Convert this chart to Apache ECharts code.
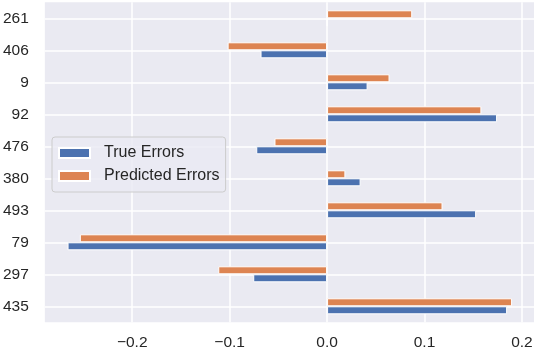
<!DOCTYPE html>
<html>
<head>
<meta charset="utf-8">
<script src="https://cdn.jsdelivr.net/npm/echarts@6/dist/echarts.min.js"></script>
<style>
  html, body { margin: 0; padding: 0; background: #fff; }
  #chart { width: 542px; height: 352px; }
</style>
</head>
<body>
<div id="chart"></div>
<script>
// categories listed bottom to top
const ids = ['435', '297', '79', '493', '380', '476', '92', '9', '406', '261'];
const trueErrors = [0.1848, -0.0758, -0.2664, 0.153, 0.0344, -0.0727, 0.1745, 0.0416, -0.0683, 0];
const predErrors = [0.1899, -0.1117, -0.2538, 0.1185, 0.0188, -0.054, 0.1584, 0.0641, -0.1021, 0.0874];
const xTicks = [-0.2, -0.1, 0, 0.1, 0.2];

const font = 'Liberation Sans, Arial, sans-serif';
const txt = '#262626';

function fmt(v) {
  let s = Math.abs(v) < 1e-9 ? '0.0' : v.toFixed(1);
  return s.replace('-', '\u2212');
}

const chart = echarts.init(document.getElementById('chart'));
chart.setOption({
  animation: false,
  backgroundColor: '#ffffff',
  grid: {
    left: 44, right: 8, top: 2.3, bottom: 29.7,
    show: true, backgroundColor: '#EAEAF2', borderWidth: 0
  },
  legend: {
    orient: 'vertical',
    left: 52, top: 137,
    padding: [7, 6, 7, 6],
    icon: 'rect',
    itemWidth: 31, itemHeight: 10, itemGap: 5,
    backgroundColor: 'rgba(234,234,242,0.8)',
    borderColor: '#cccccc', borderWidth: 1, borderRadius: 3,
    textStyle: { fontFamily: font, fontSize: 16, color: txt, lineHeight: 18, padding: [0, 0, 0, 9] },
    data: ['True Errors', 'Predicted Errors']
  },
  xAxis: {
    type: 'value',
    min: -0.2897, max: 0.2124,
    axisLine: { show: false },
    axisTick: { show: false, customValues: xTicks },
    axisLabel: {
      customValues: xTicks, formatter: fmt,
      fontFamily: font, fontSize: 15.5, color: txt, margin: 12
    },
    splitLine: { show: true, lineStyle: { color: '#ffffff', width: 1.5 } }
  },
  yAxis: {
    type: 'category',
    data: ids,
    axisLine: { show: false },
    axisTick: { show: false, alignWithLabel: true },
    axisLabel: { fontFamily: font, fontSize: 15.5, color: txt, margin: 16 },
    splitLine: { show: true, alignWithLabel: true, lineStyle: { color: '#ffffff', width: 1.5 } }
  },
  // predicted listed first so it sits above the true bar in each band
  series: [
    {
      name: 'Predicted Errors', type: 'bar', data: predErrors,
      barCategoryGap: '50%', barGap: '0%',
      itemStyle: { color: '#DD8452', borderColor: '#ffffff', borderWidth: 1 }
    },
    {
      name: 'True Errors', type: 'bar', data: trueErrors,
      barCategoryGap: '50%', barGap: '0%',
      itemStyle: { color: '#4C72B0', borderColor: '#ffffff', borderWidth: 1 }
    }
  ]
});
</script>
</body>
</html>
